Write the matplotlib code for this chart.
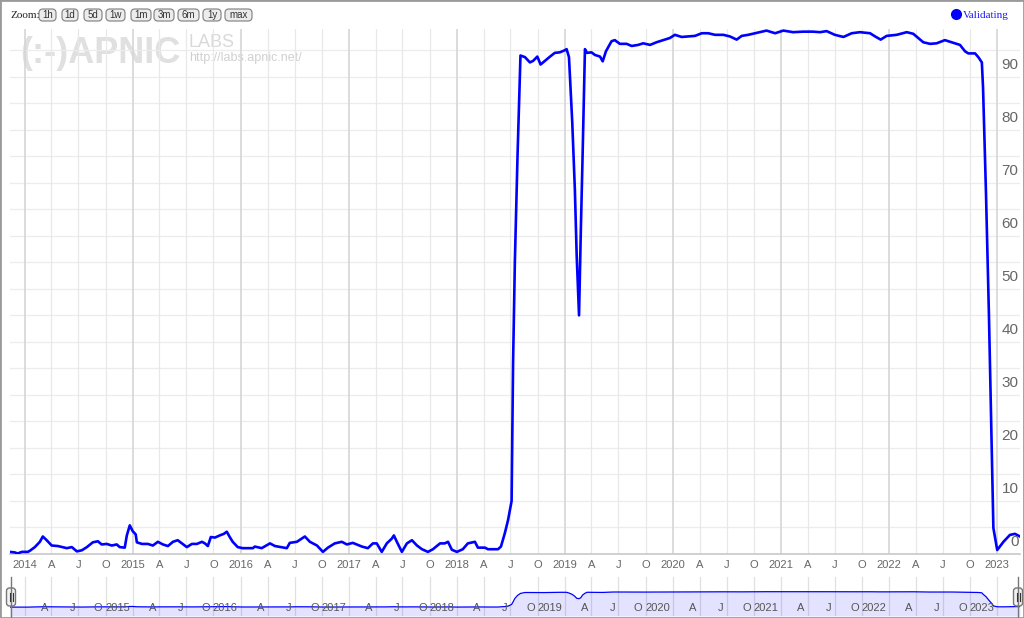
import matplotlib
matplotlib.use('Agg')
import matplotlib.pyplot as plt
import matplotlib.transforms as mtransforms
from matplotlib.patches import FancyBboxPatch, Rectangle
from matplotlib.lines import Line2D
from matplotlib import font_manager
import pandas as pd

# weekly-ish readings of the "Validating" series (percent)
dates = [
    '2013-11-12', '2013-11-28', '2013-12-08', '2013-12-22', '2014-01-11', '2014-01-18',
    '2014-02-04', '2014-02-21', '2014-03-03', '2014-03-16', '2014-04-02', '2014-04-23',
    '2014-05-23', '2014-06-09', '2014-06-26', '2014-07-13', '2014-07-30', '2014-08-19',
    '2014-09-05', '2014-09-18', '2014-10-05', '2014-10-22', '2014-11-08', '2014-11-18',
    '2014-12-05', '2014-12-12', '2014-12-22', '2015-01-01', '2015-01-11', '2015-01-15',
    '2015-02-01', '2015-02-21', '2015-03-10', '2015-03-27', '2015-04-13', '2015-04-30',
    '2015-05-17', '2015-06-02', '2015-06-19', '2015-07-03', '2015-07-20', '2015-08-06',
    '2015-08-23', '2015-09-02', '2015-09-12', '2015-09-22', '2015-10-06', '2015-10-22',
    '2015-11-05', '2015-11-15', '2015-11-25', '2015-12-05', '2015-12-22', '2016-01-08',
    '2016-02-11', '2016-02-18', '2016-03-12', '2016-04-09', '2016-04-26', '2016-06-05',
    '2016-06-15', '2016-07-09', '2016-08-05', '2016-08-22', '2016-09-15', '2016-10-05',
    '2016-10-22', '2016-11-14', '2016-12-08', '2016-12-25', '2017-01-14', '2017-02-14',
    '2017-03-06', '2017-03-23', '2017-04-05', '2017-04-22', '2017-05-09', '2017-05-26',
    '2017-06-02', '2017-06-12', '2017-06-29', '2017-07-16', '2017-08-02', '2017-08-19',
    '2017-09-05', '2017-09-25', '2017-10-12', '2017-11-05', '2017-11-21', '2017-12-02',
    '2017-12-15', '2018-01-01', '2018-01-21', '2018-02-07', '2018-03-03', '2018-03-13',
    '2018-04-06', '2018-04-16', '2018-05-20', '2018-05-30', '2018-06-12', '2018-06-23',
    '2018-07-05', '2018-07-10', '2018-07-16', '2018-07-25', '2018-08-04', '2018-08-19',
    '2018-09-05', '2018-09-16', '2018-09-30', '2018-10-11', '2018-10-26', '2018-11-12',
    '2018-11-28', '2018-12-15', '2019-01-01', '2019-01-07', '2019-01-15', '2019-01-26',
    '2019-02-04', '2019-02-10', '2019-02-18', '2019-02-24', '2019-03-02', '2019-03-10',
    '2019-03-17', '2019-04-01', '2019-04-13', '2019-04-30', '2019-05-09', '2019-05-20',
    '2019-06-08', '2019-06-19', '2019-07-06', '2019-07-29', '2019-08-15', '2019-09-06',
    '2019-09-23', '2019-10-16', '2019-11-07', '2019-11-30', '2019-12-22', '2020-01-08',
    '2020-01-31', '2020-02-22', '2020-03-16', '2020-04-08', '2020-04-30', '2020-05-23',
    '2020-06-20', '2020-07-12', '2020-08-04', '2020-08-21', '2020-09-12', '2020-10-05',
    '2020-10-28', '2020-11-13', '2020-12-12', '2021-01-09', '2021-02-11', '2021-03-17',
    '2021-04-19', '2021-05-13', '2021-06-04', '2021-07-02', '2021-07-31', '2021-08-28',
    '2021-09-25', '2021-10-29', '2021-11-15', '2021-12-04', '2021-12-24', '2022-01-27',
    '2022-03-02', '2022-03-24', '2022-04-10', '2022-04-27', '2022-05-20', '2022-06-11',
    '2022-07-09', '2022-08-01', '2022-08-29', '2022-09-15', '2022-09-26', '2022-10-19',
    '2022-10-30', '2022-11-11', '2022-11-15', '2022-11-25', '2022-12-05', '2022-12-15',
    '2022-12-20', '2023-01-02', '2023-01-23', '2023-02-14', '2023-03-03', '2023-03-20',
]
validating = [
    0.4, 0.3, 0.1, 0.4, 0.4, 0.6,
    1.3, 2.3, 3.3, 2.6, 1.6, 1.5,
    1.1, 1.3, 0.5, 0.7, 1.3, 2.2,
    2.4, 1.8, 1.9, 1.6, 1.8, 1.3,
    1.2, 3.5, 5.4, 4.3, 3.7, 2.2,
    1.9, 1.9, 1.6, 2.3, 1.8, 1.5,
    2.3, 2.6, 1.9, 1.3, 1.9, 1.9,
    2.3, 2.0, 1.5, 3.2, 3.1, 3.5,
    3.8, 4.2, 3.2, 2.3, 1.3, 1.1,
    1.1, 1.4, 1.1, 2.0, 1.5, 1.1,
    2.1, 2.3, 3.3, 2.3, 1.6, 0.4,
    1.2, 2.0, 2.3, 1.8, 2.1, 1.4,
    1.1, 2.0, 2.0, 0.4, 2.0, 2.9,
    3.5, 2.3, 0.4, 2.0, 2.6, 1.6,
    0.9, 0.4, 0.9, 2.0, 2.0, 2.3,
    0.8, 0.4, 0.9, 2.0, 2.3, 1.2,
    1.2, 0.9, 0.9, 1.4, 3.9, 6.4,
    10.0, 36.0, 55.0, 75.0, 94.0, 93.7,
    92.7, 93.0, 93.8, 92.3, 93.0, 93.8,
    94.5, 94.6, 95.0, 95.2, 93.7, 81.5,
    68.6, 56.4, 45.0, 60.8, 75.0, 95.2,
    94.5, 94.6, 94.1, 93.8, 92.9, 94.8,
    96.7, 96.9, 96.2, 96.2, 95.8, 96.0,
    96.3, 96.0, 96.5, 96.9, 97.3, 97.9,
    97.5, 97.6, 97.7, 98.2, 98.2, 97.9,
    97.9, 97.6, 97.0, 97.7, 97.9, 98.2,
    98.5, 98.7, 98.2, 98.7, 98.4, 98.5,
    98.5, 98.4, 98.6, 97.9, 97.5, 98.2,
    98.4, 98.2, 97.6, 97.0, 97.7, 97.9,
    98.4, 98.1, 97.3, 96.5, 96.2, 96.3,
    96.9, 96.5, 96.0, 94.8, 94.4, 94.4,
    93.7, 92.7, 88.0, 68.0, 45.0, 18.0,
    4.9, 0.75, 2.3, 3.6, 3.8, 3.3,
]

y_ticks = [0, 10, 20, 30, 40, 50, 60, 70, 80, 90]
zoom_buttons = ['1h', '1d', '5d', '1w', '1m', '3m', '6m', '1y', 'max']
month_letters = {1: None, 4: 'A', 7: 'J', 10: 'O'}

x = pd.to_datetime(dates)
quarters = pd.date_range('2014-01-01', '2023-01-01', freq='QS')
q_labels = [str(q.year) if q.month == 1 else month_letters[q.month] for q in quarters]
x_start, x_end = pd.Timestamp('2013-11-12'), pd.Timestamp('2023-03-20')

W, H = 1024, 618
fig = plt.figure(figsize=(W / 100, H / 100), dpi=100)
fig.patch.set_facecolor('white')

def fx(px):
    return px / W

def fy(py):
    return 1 - py / H

sans = 'Liberation Sans'
serif = 'Liberation Serif'
grey = '#666666'

# ---- main chart
ax = fig.add_axes([fx(10), fy(554), fx(1010), (554 - 29) / H])
ax.set_xlim(x_start, x_end)
ax.set_ylim(0, 99)
for s in ['top', 'left', 'right']:
    ax.spines[s].set_visible(False)
ax.spines['bottom'].set_color('#c8c8c8')
ax.spines['bottom'].set_linewidth(1.2)

for v in range(5, 99, 5):
    ax.axhline(v, color='#ececec', lw=0.9, zorder=1)
for q in quarters:
    ax.axvline(q, color='#d6d6d6' if q.month == 1 else '#e8e8e8',
               lw=1.2 if q.month == 1 else 0.9, zorder=1)

ax.set_xticks(quarters)
ax.set_xticklabels(q_labels, fontsize=8, color=grey, family=sans)
ax.tick_params(axis='x', length=0, pad=4)
ax.set_yticks([])

for v in y_ticks:
    ax.text(0.9985, v + 2.3, str(v), transform=ax.get_yaxis_transform(),
            ha='right', va='center', fontsize=11, color=grey, family=sans, zorder=6)

# watermark
names = {f.name for f in font_manager.fontManager.ttflist}
if 'Liberation Sans Narrow' in names:
    logo_font, logo_size = 'Liberation Sans Narrow', 31
else:
    logo_font, logo_size = sans, 26
ax.text(fx(20), fy(63), '(:-)APNIC', transform=fig.transFigure, family=logo_font,
        fontsize=logo_size, fontweight='bold', color='#e0e0e0', ha='left', va='baseline', zorder=0.5)
ax.text(fx(189), fy(47), 'LABS', transform=fig.transFigure, family=sans,
        fontsize=13, color='#d9d9d9', ha='left', va='baseline', zorder=0.5)
ax.text(fx(189), fy(61), 'http://labs.apnic.net/', transform=fig.transFigure, family=sans,
        fontsize=9, color='#d0d0d0', ha='left', va='baseline', zorder=0.5)

ax.plot(x, validating, color='#0000ff', lw=1.9, zorder=5, solid_joinstyle='round')

# ---- navigator
nav = fig.add_axes([fx(10), fy(616), fx(1010), (616 - 577) / H])
nav.set_xlim(x_start, x_end)
nav.set_ylim(-56, 192)
for s in nav.spines.values():
    s.set_visible(False)
nav.set_xticks([])
nav.set_yticks([])
for q in quarters:
    nav.axvline(q, color='#e0e0e0', lw=0.9, zorder=1)
nav_line = pd.Series(validating).rolling(3, center=True, min_periods=1).mean()
nav.fill_between(x, nav_line, -56, color='#0000ff', alpha=0.11, lw=0, zorder=2)
nav.plot(x, nav_line, color='#0000ff', lw=0.9, zorder=3)
lab_tr = mtransforms.offset_copy(nav.get_xaxis_transform(), fig=fig, x=-3, y=0, units='dots')
for q, lab in zip(quarters[1:], q_labels[1:]):
    nav.text(q, 0.2, lab, transform=lab_tr, ha='right', va='center',
             fontsize=8, color='#555555', family=sans, zorder=4)

ident = mtransforms.IdentityTransform()
for hx in [11, 1018]:
    fig.add_artist(Line2D([hx, hx], [H - 577, H - 618], color='#777777', lw=1, transform=ident))
    fig.add_artist(FancyBboxPatch((hx - 4.5, H - 606), 9, 18,
                                  boxstyle='round,pad=0,rounding_size=3',
                                  fc='#f2f2f2', ec='#777777', lw=1, transform=ident))
    for dx in (-1.5, 1.5):
        fig.add_artist(Line2D([hx + dx, hx + dx], [H - 601, H - 593], color='#333333',
                              lw=0.8, transform=ident))

# ---- range selector buttons
fig.text(fx(10), fy(15), 'Zoom:', family=serif, fontsize=8, color='#222222',
         ha='left', va='center')
button_spans = [(39, 56), (62, 78), (84, 102), (106, 125), (131, 151),
                (154, 174), (178, 199), (203, 221), (225, 252)]
for lab, (b0, b1) in zip(zoom_buttons, button_spans):
    fig.add_artist(FancyBboxPatch((b0, H - 21), b1 - b0, 12,
                                  boxstyle='round,pad=0,rounding_size=4',
                                  fc='#ececec', ec='#8a8a8a', lw=0.9, transform=ident))
    fig.text(fx((b0 + b1) / 2), fy(15), lab, family=sans, fontsize=7, color='#333333',
             ha='center', va='center')

# ---- legend
fig.add_artist(Line2D([fx(956)], [fy(14)], marker='o', ms=7, color='#0000ff',
                      transform=fig.transFigure))
fig.text(fx(963), fy(15), 'Validating', family=serif, fontsize=8, color='#1a1aff',
         ha='left', va='center')

fig.add_artist(Rectangle((0, 0), 1, 1, transform=fig.transFigure, fill=False,
                         ec='#9a9a9a', lw=2))

fig.savefig('out.png', dpi=100)
